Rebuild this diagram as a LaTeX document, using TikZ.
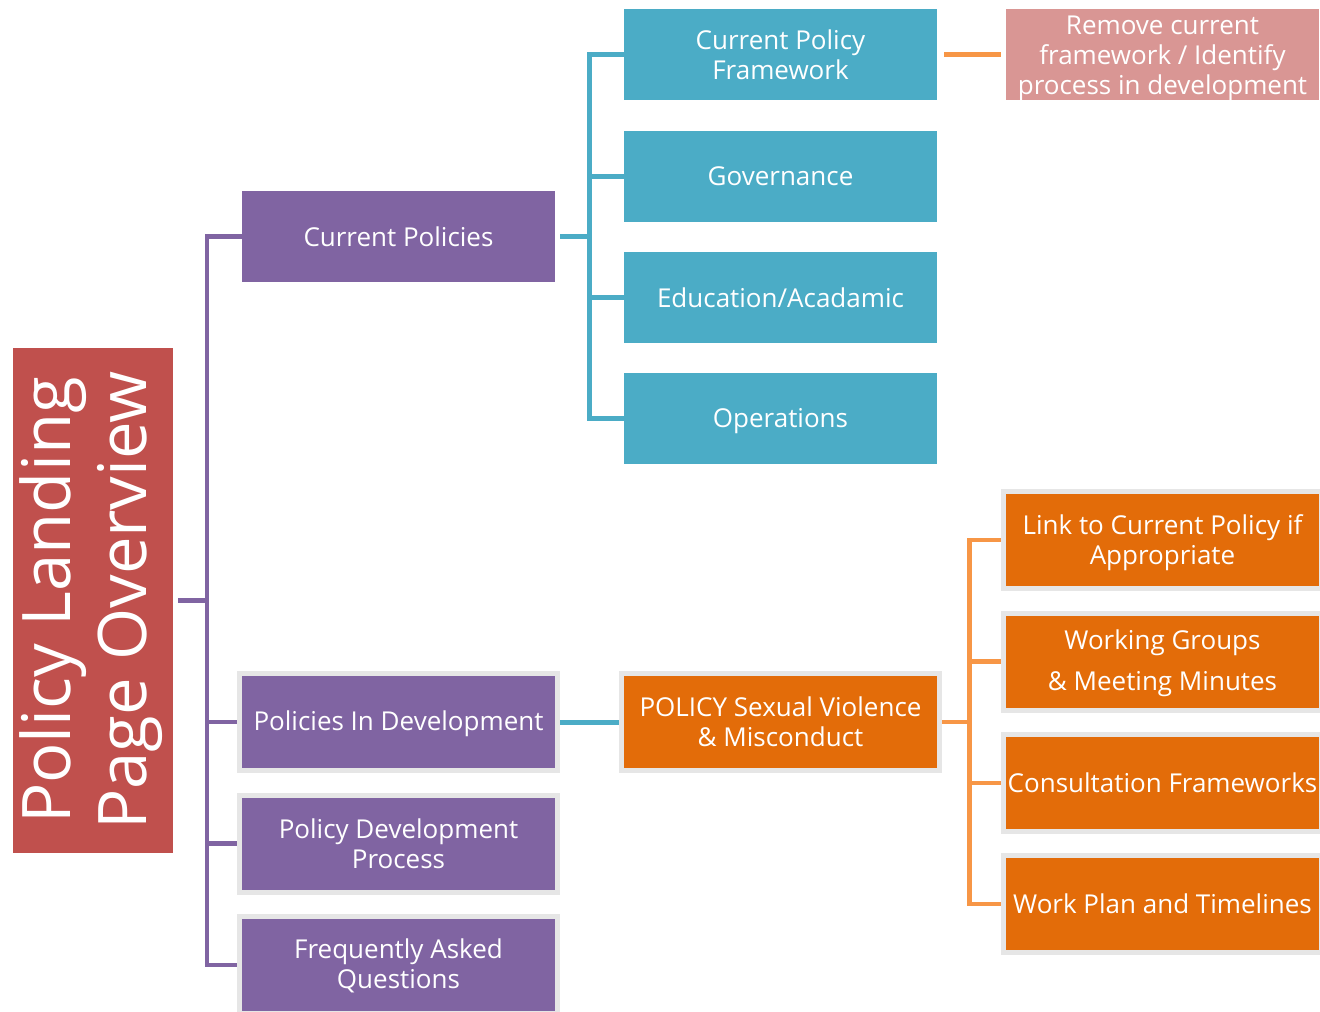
\documentclass[tikz,border=0pt]{standalone}
\usepackage{fontspec}
\setmainfont{Open Sans}
\usetikzlibrary{backgrounds}
\definecolor{cpurple}{HTML}{8064A2}
\definecolor{cblue}{HTML}{4BACC6}
\definecolor{cred}{HTML}{C0504D}
\definecolor{cpink}{HTML}{D99694}
\definecolor{corange}{HTML}{E36C09}
\definecolor{clorange}{HTML}{F79646}
\definecolor{cframe}{HTML}{E6E6E6}
\newcommand{\lowtext}[2]{\raisebox{-#1}[\height][\depth]{\begin{tabular}{@{}c@{}}#2\end{tabular}}}
\begin{document}
\begin{tikzpicture}[x=1pt,y=-1pt,
  box/.style={minimum width=313pt,minimum height=91pt,inner sep=0pt,align=center,
    text=white,font=\fontsize{26}{30}\selectfont},
  framed/.style={box,draw=cframe,line width=5pt,minimum width=318pt,minimum height=97pt},
  pl/.style={draw=cpurple,line width=4.5pt},
  bl/.style={draw=cblue,line width=5pt},
  ol/.style={draw=clorange,line width=4.5pt}]
\useasboundingbox (0,0) rectangle (1320,1012);
% title
\node[fill=cred,minimum width=160pt,minimum height=505pt,inner sep=0pt,text=white,
  font=\fontsize{67}{76}\selectfont] (title) at (93,600.5)
  {\rotatebox{90}{\begin{tabular}{@{}c@{}}Policy Landing\\Page Overview\end{tabular}}};
% level 1
\node[box,fill=cpurple] (cp) at (398.5,236.5) {Current Policies};
\node[framed,fill=cpurple] (pid) at (398.5,722) {\lowtext{2pt}{Policies In Development}};
\node[framed,fill=cpurple] (pdp) at (398.5,843.5) {Policy Development\\Process};
\node[framed,fill=cpurple] (faq) at (398.5,965) {\lowtext{2pt}{Frequently Asked\\Questions}};
% level 2 (current)
\node[box,fill=cblue] (cpf) at (780.5,54.5) {Current Policy\\Framework};
\node[box,fill=cblue] (gov) at (780.5,176) {Governance};
\node[box,fill=cblue] (edu) at (780.5,297.5) {Education/Acadamic};
\node[box,fill=cblue] (ops) at (780.5,418.5) {\lowtext{3pt}{Operations}};
\node[box,fill=cpink] (rem) at (1162.5,54.5) {\lowtext{4pt}{Remove current\\framework / Identify\\process in development}};
% level 2 (development)
\node[framed,fill=corange] (pol) at (780.5,722) {POLICY Sexual Violence\\\& Misconduct};
\node[framed,fill=corange] (link) at (1162.5,540) {\lowtext{3pt}{Link to Current Policy if\\Appropriate}};
\node[framed,fill=corange] (wg) at (1162.5,661.5) {\lowtext{2pt}{Working Groups\\[11pt]\& Meeting Minutes}};
\node[framed,fill=corange] (cons) at (1162.5,783) {Consultation Frameworks};
\node[framed,fill=corange] (wp) at (1162.5,904) {Work Plan and Timelines};
\begin{pgfonlayer}{background}
  % purple tree
  \draw[pl] (cp.west) -- ++(-35,0) coordinate (pbus) |- (faq.west);
  \draw[pl] (title.east) ++(5,0) -- (title.east -| pbus);
  \draw[pl] (pid.west) -- (pid.west -| pbus);
  \draw[pl] (pdp.west) -- (pdp.west -| pbus);
  % blue tree
  \draw[bl] (cpf.west) -- ++(-34,0) coordinate (bbus) |- (ops.west);
  \draw[bl] (gov.west) -- (gov.west -| bbus);
  \draw[bl] (edu.west) -- (edu.west -| bbus);
  \draw[bl] (cp.east) ++(5,0) -- (cp.east -| bbus);
  \draw[bl] (pid.east) -- (pol.west);
  \draw[ol,shorten <=7pt,shorten >=5pt] (cpf.east) -- (rem.west);
  % orange tree
  \draw[ol] (link.west) -- ++(-31.5,0) coordinate (obus) |- (wp.west);
  \draw[ol] (wg.west) -- (wg.west -| obus);
  \draw[ol] (cons.west) -- (cons.west -| obus);
  \draw[ol] (pol.east) -- (pol.east -| obus);
\end{pgfonlayer}
\end{tikzpicture}
\end{document}
